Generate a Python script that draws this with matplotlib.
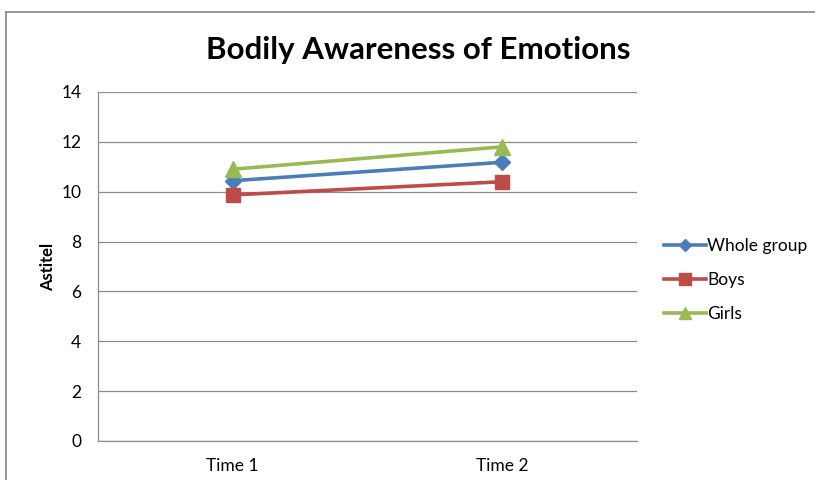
import matplotlib
matplotlib.use("Agg")
import matplotlib.pyplot as plt
from matplotlib.lines import Line2D

plt.rcParams['font.family'] = ['Lato', 'DejaVu Sans']

categories = ['Time 1', 'Time 2']
whole_group = [10.44, 11.18]
boys = [9.87, 10.40]
girls = [10.90, 11.80]
y_ticks = [0, 2, 4, 6, 8, 10, 12, 14]

fig = plt.figure(figsize=(8.15, 4.8), dpi=100)
ax = fig.add_axes([0.1202, 0.0813, 0.6614, 0.7271])

x = range(len(categories))
ax.plot(x, whole_group, color='#4A7EBB', lw=2.6, marker='D', ms=8,
        label='Whole group')
ax.plot(x, boys, color='#BE4B48', lw=2.6, marker='s', ms=10, label='Boys')
ax.plot(x, girls, color='#98B954', lw=2.6, marker='^', ms=11, label='Girls')

ax.set_xlim(-0.5, 1.5)
ax.set_ylim(0, 14)
ax.set_yticks(y_ticks)
ax.set_xticks(list(x))
ax.set_xticklabels(categories)
ax.yaxis.grid(True, color='#8C8C8C', lw=0.9)
ax.set_axisbelow(True)
ax.tick_params(length=0, labelsize=12.5, pad=12)
ax.tick_params(axis='x', pad=12)
for s in ['top', 'right']:
    ax.spines[s].set_visible(False)
for s in ['left', 'bottom']:
    ax.spines[s].set_color('#8C8C8C')
    ax.spines[s].set_linewidth(0.9)

ax.set_ylabel('Astitel', fontsize=12, fontweight='bold', labelpad=4)
fig.text(0.513, 0.895, 'Bodily Awareness of Emotions', fontsize=22.5,
         fontweight='bold', ha='center', va='center')

ax.legend(loc='center left', bbox_to_anchor=(1.05, 0.461), frameon=False,
          fontsize=12.5, handlelength=2.4, labelspacing=1.05,
          handletextpad=0.1, borderpad=0, borderaxespad=0, markerscale=0.8)

# chart-area border (cropped on right and bottom)
bx = 6 / 815
by = 1 - 12 / 480
fig.add_artist(Line2D([bx, bx], [0, by], color='#868686', lw=1.2))
fig.add_artist(Line2D([bx, 1], [by, by], color='#868686', lw=1.2))

fig.savefig('out.png', dpi=100)
